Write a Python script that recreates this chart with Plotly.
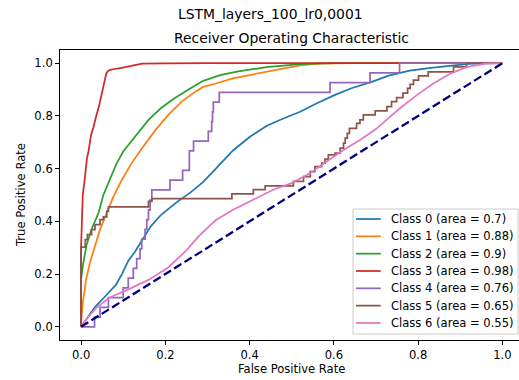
import plotly.graph_objects as go

# ---- data ----
class_names = ["Class 0 (area = 0.7)", "Class 1 (area = 0.88)", "Class 2 (area = 0.9)",
               "Class 3 (area = 0.98)", "Class 4 (area = 0.76)", "Class 5 (area = 0.65)",
               "Class 6 (area = 0.55)"]
colors = ["#1f77b4", "#ff7f0e", "#2ca02c", "#d62728", "#9467bd", "#8c564b", "#e377c2"]

fpr0 = [0, 0.015, 0.033, 0.057, 0.083, 0.097, 0.112, 0.128, 0.15, 0.165, 0.19, 0.225, 0.26, 0.29, 0.32,
        0.36, 0.4, 0.44, 0.48, 0.52, 0.56, 0.6, 0.64, 0.69, 0.73, 0.78, 0.83, 0.88, 0.92, 0.96, 1]
tpr0 = [0, 0.035, 0.075, 0.115, 0.16, 0.2, 0.25, 0.285, 0.344, 0.38, 0.425, 0.47, 0.51, 0.55, 0.6,
        0.668, 0.72, 0.762, 0.79, 0.816, 0.848, 0.878, 0.904, 0.929, 0.953, 0.972, 0.982, 0.99, 0.997, 0.999, 1]

fpr1 = [0, 0, 0.004, 0.012, 0.021, 0.033, 0.045, 0.061, 0.077, 0.097, 0.12, 0.145, 0.176, 0.207, 0.239,
        0.271, 0.29, 0.32, 0.36, 0.4, 0.44, 0.48, 0.52, 0.56, 0.65, 1]
tpr1 = [0, 0.018, 0.09, 0.18, 0.243, 0.306, 0.369, 0.432, 0.495, 0.558, 0.621, 0.678, 0.745, 0.804, 0.854,
        0.892, 0.91, 0.923, 0.942, 0.955, 0.967, 0.98, 0.992, 0.998, 1.0, 1]

fpr2 = [0, 0, 0.005, 0.013, 0.025, 0.041, 0.053, 0.067, 0.083, 0.1, 0.12, 0.135, 0.16, 0.19, 0.22,
        0.255, 0.29, 0.33, 0.37, 0.44, 0.52, 0.6, 1]
tpr2 = [0, 0.18, 0.24, 0.31, 0.37, 0.43, 0.5, 0.555, 0.615, 0.665, 0.705, 0.735, 0.785, 0.83, 0.865,
        0.9, 0.933, 0.955, 0.968, 0.985, 0.996, 1.0, 1]

fpr3 = [0, 0, 0.002, 0.004, 0.008, 0.011, 0.014, 0.017, 0.02, 0.024, 0.029, 0.034, 0.037, 0.043, 0.049,
        0.053, 0.056, 0.06, 0.065, 0.075, 0.09, 0.11, 0.13, 0.145, 0.2, 0.3, 1]
tpr3 = [0, 0.3, 0.4, 0.5, 0.55, 0.6, 0.64, 0.66, 0.7, 0.73, 0.755, 0.79, 0.805, 0.84, 0.88,
        0.91, 0.935, 0.962, 0.972, 0.977, 0.98, 0.987, 0.993, 0.998, 0.999, 1.0, 1]

# step curves: x of each vertical rise and the level it rises to
fpr4 = [0, 0.032, 0.045, 0.065, 0.1, 0.112, 0.124, 0.132, 0.14, 0.144, 0.152, 0.156, 0.16, 0.164,
        0.168, 0.211, 0.241, 0.257, 0.267, 0.302, 0.31, 0.312, 0.314, 0.328, 0.591, 0.686, 0.756, 1.0]
tpr4 = [0, 0.037, 0.074, 0.111, 0.148, 0.185, 0.222, 0.259, 0.296, 0.333, 0.37, 0.407, 0.444, 0.481,
        0.519, 0.556, 0.593, 0.667, 0.704, 0.741, 0.778, 0.815, 0.852, 0.889, 0.926, 0.963, 1.0, 1.0]

fpr5 = [0, 0, 0.01, 0.015, 0.025, 0.033, 0.045, 0.053, 0.061, 0.065, 0.16, 0.168, 0.358, 0.409, 0.437,
        0.504, 0.528, 0.544, 0.555, 0.571, 0.579, 0.587, 0.603, 0.615, 0.623, 0.627, 0.632, 0.637, 0.654,
        0.662, 0.67, 0.698, 0.726, 0.737, 0.749, 0.764, 0.775, 0.781, 0.789, 0.801, 0.824, 0.884, 0.915, 1.0]
tpr5 = [0, 0.302, 0.331, 0.35, 0.369, 0.388, 0.407, 0.417, 0.438, 0.455, 0.476, 0.486, 0.504, 0.52, 0.535,
        0.552, 0.57, 0.589, 0.608, 0.621, 0.636, 0.652, 0.659, 0.678, 0.697, 0.716, 0.734, 0.753, 0.772,
        0.785, 0.804, 0.819, 0.835, 0.854, 0.869, 0.886, 0.904, 0.92, 0.936, 0.952, 0.967, 0.986, 1.0, 1.0]

fpr6 = [0, 0.013, 0.035, 0.067, 0.112, 0.16, 0.207, 0.25, 0.28, 0.32, 0.36, 0.4, 0.456, 0.5, 0.544,
        0.583, 0.623, 0.662, 0.70, 0.72, 0.757, 0.797, 0.836, 0.876, 0.915, 0.96, 1]
tpr6 = [0, 0.03, 0.07, 0.11, 0.142, 0.178, 0.225, 0.29, 0.345, 0.405, 0.443, 0.475, 0.52, 0.545, 0.583,
        0.627, 0.671, 0.709, 0.75, 0.778, 0.829, 0.879, 0.923, 0.96, 0.985, 0.998, 1]

diag_x = [0, 1]
diag_y = [0, 1]

xticks = [0.0, 0.2, 0.4, 0.6, 0.8, 1.0]
yticks = [0.0, 0.2, 0.4, 0.6, 0.8, 1.0]

suptitle = "LSTM_layers_100_lr0,0001"
title = "Receiver Operating Characteristic"
xlabel = "False Positive Rate"
ylabel = "True Positive Rate"

curves = [(fpr0, tpr0, "linear"), (fpr1, tpr1, "linear"), (fpr2, tpr2, "linear"),
          (fpr3, tpr3, "linear"), (fpr4, tpr4, "hv"), (fpr5, tpr5, "hv"), (fpr6, tpr6, "linear")]

# ---- layout geometry (pixels) ----
W, H = 519, 380
L, R, T, B = 60, 0, 50, 40
PW, PH = W - L - R, H - T - B
FONT = "DejaVu Sans"
LW = 1.75


def px_x(p):
    return (p - L) / PW


def px_y(p):
    return (H - B - p) / PH


fig = go.Figure()
for (fx, ty, shp), c, n in zip(curves, colors, class_names):
    fig.add_trace(go.Scatter(x=fx, y=ty, mode="lines", name=n, showlegend=False,
                             line=dict(color=c, width=LW, shape=shp), hoverinfo="skip"))
fig.add_trace(go.Scatter(x=diag_x, y=diag_y, mode="lines", showlegend=False, hoverinfo="skip",
                         line=dict(color="navy", width=2.3, dash="8.5px,3.7px")))

axis_common = dict(showgrid=False, zeroline=False, showline=True, linecolor="black", linewidth=0.9,
                   ticks="outside", ticklen=4, tickwidth=0.9, tickcolor="black",
                   tickfont=dict(family=FONT, size=11.55, color="black"), tickformat=".1f")

fig.update_layout(
    width=W, height=H, autosize=False,
    margin=dict(l=L, r=R, t=T, b=B, pad=0),
    paper_bgcolor="white", plot_bgcolor="white",
    font=dict(family=FONT, color="black"),
    xaxis=dict(range=[-0.05, -0.05 + PW / 421.3], tickvals=xticks, mirror=True, **axis_common),
    yaxis=dict(range=[-0.05, 1.05], tickvals=yticks, **axis_common),
)

ann = [
    dict(text=suptitle, x=px_x(270.5), y=px_y(14), font=dict(size=13.9)),
    dict(text=title, x=px_x(291.7), y=px_y(38), font=dict(size=13.9)),
    dict(text=xlabel, x=px_x(291.7), y=px_y(369), font=dict(size=11.55)),
    dict(text=ylabel, x=px_x(21), y=px_y(195), font=dict(size=11.55), textangle=-90),
]
for a in ann:
    fig.add_annotation(xref="paper", yref="paper", showarrow=False, xanchor="center", yanchor="middle",
                       font_family=FONT, **{k: v for k, v in a.items()})

# legend (drawn manually to match matplotlib spacing)
fig.add_shape(type="rect", xref="paper", yref="paper", x0=px_x(353), x1=px_x(518), y0=px_y(334),
              y1=px_y(209), line=dict(color="#cccccc", width=1), fillcolor="rgba(255,255,255,0.8)",
              layer="above")
row0, step = 219.0, 17.33
for i, (c, n) in enumerate(zip(colors, class_names)):
    yy = px_y(row0 + i * step)
    fig.add_shape(type="line", xref="paper", yref="paper", x0=px_x(356), x1=px_x(380.7), y0=yy, y1=yy,
                  line=dict(color=c, width=LW), layer="above")
    fig.add_annotation(xref="paper", yref="paper", x=px_x(389.3), y=yy, text=n, showarrow=False,
                       xanchor="left", yanchor="middle", font=dict(family=FONT, size=11.55, color="black"))

fig.write_html("out.html")
